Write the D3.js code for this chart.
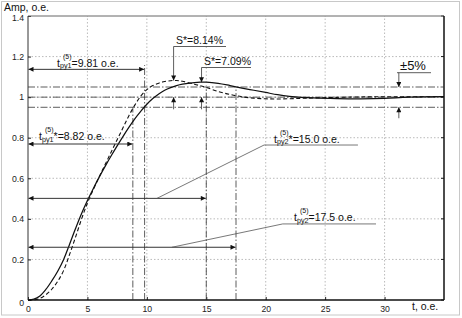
<!DOCTYPE html>
<html><head><meta charset="utf-8">
<script src="https://cdn.jsdelivr.net/npm/d3@7"></script>
<style>
html,body{margin:0;padding:0;background:#fff;}
svg{display:block;font-family:"Liberation Sans",Arial,sans-serif;}
</style></head>
<body>
<svg id="chart" width="462" height="318"></svg>
<script>
// ---- data ----
const tValues = [0,0.5,1,1.5,2,2.5,3,3.5,4,4.5,5,5.5,6,6.5,7,7.5,8,8.5,9,9.5,10,10.5,11,11.5,12,12.5,13,14,14.5,15,16,17,18,19,20,21,22,23,24,26,28,30,32,35];
const solidValues = [0,0.004,0.02,0.052,0.094,0.142,0.2,0.275,0.352,0.425,0.49,0.55,0.607,0.66,0.711,0.76,0.807,0.852,0.894,0.931,0.965,0.993,1.016,1.034,1.047,1.057,1.064,1.072,1.074,1.074,1.068,1.057,1.045,1.034,1.023,1.012,1.004,0.999,0.996,0.993,0.992,0.994,1.0,1.002];
const dashedValues = [0,0.001,0.008,0.026,0.053,0.092,0.146,0.225,0.31,0.398,0.478,0.545,0.608,0.669,0.73,0.79,0.85,0.91,0.962,1.006,1.037,1.057,1.069,1.077,1.081,1.082,1.078,1.064,1.056,1.048,1.028,1.013,1.002,0.995,0.992,0.991,0.992,0.994,0.996,0.999,1.001,1.002,1.002,1.002];
const xTicks = [0,5,10,15,20,25,30];
const yTicks = [0,0.2,0.4,0.6,0.8,1,1.2,1.4];
const bandLevels = [0.95,1.0,1.05];
const timeMarks = [8.82, 9.81, 15.0, 17.5];
const overshootLabels = ["S*=8.14%", "S*=7.09%"];

const svg = d3.select("#chart");
const x = d3.scaleLinear().domain([0,35]).range([28,444]);
const y = d3.scaleLinear().domain([0,1.4]).range([300,16]);

// outer frame
svg.append("rect").attr("x",1.5).attr("y",1.5).attr("width",458).attr("height",313.5)
  .attr("fill","none").attr("stroke","#c8c8c8").attr("stroke-width",1);

// arrow marker
const defs = svg.append("defs");
defs.append("marker").attr("id","ah").attr("viewBox","0 0 10 10").attr("refX",10).attr("refY",5)
  .attr("markerUnits","userSpaceOnUse").attr("markerWidth",6.5).attr("markerHeight",5)
  .attr("orient","auto-start-reverse")
  .append("path").attr("d","M0,0 L10,5 L0,10 Z").attr("fill","#111");

// grid
const g = svg.append("g");
g.selectAll(".gx").data(xTicks.filter(d=>d>0)).join("line")
  .attr("x1",d=>x(d)).attr("x2",d=>x(d)).attr("y1",y(0)).attr("y2",y(1.4))
  .attr("stroke","#aaa").attr("stroke-width",0.8).attr("stroke-dasharray","1.5,2");
g.selectAll(".gy").data(yTicks.filter(d=>d>0 && d<1.4)).join("line")
  .attr("x1",x(0)).attr("x2",x(35)).attr("y1",d=>y(d)).attr("y2",d=>y(d))
  .attr("stroke","#aaa").attr("stroke-width",0.8).attr("stroke-dasharray","1.5,2");

// axes
const xAxis = d3.axisBottom(x).tickValues(xTicks).tickSize(-3).tickPadding(4).tickFormat(d3.format("d"));
const yAxis = d3.axisLeft(y).tickValues(yTicks).tickSize(-3).tickPadding(4).tickFormat(d=>d3.format("")(d));
const gx = svg.append("g").attr("transform",`translate(0,${y(0)})`).call(xAxis);
const gy = svg.append("g").attr("transform",`translate(${x(0)},0)`).call(yAxis);
[gx,gy].forEach(a=>{
  a.select(".domain").remove();
  a.selectAll(".tick line").attr("stroke","#222");
  a.selectAll(".tick text").attr("font-size","8.7px").attr("fill","#222").attr("font-family","Liberation Sans, Arial, sans-serif");
});
gy.selectAll(".tick").filter(d=>d===0).select("text").attr("dy","0.6em");
gy.selectAll(".tick").filter(d=>d===1.4).select("text").attr("dy","0.5em");
gx.selectAll(".tick text").attr("dy","0.9em");
// right ticks
svg.append("g").selectAll("line").data(yTicks).join("line")
  .attr("x1",x(35)).attr("x2",x(35)-3).attr("y1",d=>y(d)).attr("y2",d=>y(d)).attr("stroke","#222");

// plot frame
svg.append("line").attr("x1",x(0)).attr("x2",x(35)).attr("y1",y(1.4)).attr("y2",y(1.4)).attr("stroke","#666").attr("stroke-width",1);
svg.append("line").attr("x1",x(0)).attr("x2",x(0)).attr("y1",y(0)).attr("y2",y(1.4)).attr("stroke","#333").attr("stroke-width",1);
svg.append("line").attr("x1",x(0)).attr("x2",x(35)).attr("y1",y(0)).attr("y2",y(0)).attr("stroke","#111").attr("stroke-width",1.5);
svg.append("line").attr("x1",x(35)).attr("x2",x(35)).attr("y1",y(0)).attr("y2",y(1.4)).attr("stroke","#111").attr("stroke-width",1.5);

// axis titles
svg.append("text").attr("x",4).attr("y",11).attr("font-size","10.5px").attr("fill","#111").text("Amp, o.e.");
svg.append("text").attr("x",412).attr("y",310).attr("font-size","10.5px").attr("fill","#111").text("t, o.e.");

// band lines (dash-dot)
const dd = "7,2,1.5,2";
svg.append("g").selectAll("line").data(bandLevels).join("line")
  .attr("x1",x(0)).attr("x2",x(35)).attr("y1",d=>y(d)).attr("y2",d=>y(d))
  .attr("stroke","#333").attr("stroke-width",0.8).attr("stroke-dasharray",dd);

// vertical time marks
const vTop = [0.95, 1.158, 1.05, 1.05];
svg.append("g").selectAll("line").data(timeMarks).join("line")
  .attr("x1",d=>x(d)).attr("x2",d=>x(d)).attr("y1",y(0)).attr("y2",(d,i)=>y(vTop[i]))
  .attr("stroke","#333").attr("stroke-width",0.8).attr("stroke-dasharray",dd);

// curves
const line = d3.line().x(d=>x(d[0])).y(d=>y(d[1])).curve(d3.curveCatmullRom.alpha(0.5));
svg.append("path").datum(tValues.map((t,i)=>[t,solidValues[i]])).attr("d",line)
  .attr("fill","none").attr("stroke","#111").attr("stroke-width",1.25);
svg.append("path").datum(tValues.map((t,i)=>[t,dashedValues[i]])).attr("d",line)
  .attr("fill","none").attr("stroke","#111").attr("stroke-width",1.1).attr("stroke-dasharray","4,2.5");

// horizontal time arrows
const arrowLevels = [1.137, 0.769, 0.501, 0.26];
const arrowEnds = [9.81, 8.82, 15.0, 17.5];
svg.append("g").selectAll("line").data(arrowLevels).join("line")
  .attr("x1",x(0)+0.5).attr("x2",(d,i)=>x(arrowEnds[i])-0.5).attr("y1",d=>y(d)).attr("y2",d=>y(d))
  .attr("stroke","#333").attr("stroke-width",1)
  .attr("marker-start","url(#ah)").attr("marker-end","url(#ah)");

// leader lines
function leader(pts){
  svg.append("path").attr("d",d3.line()(pts.map(p=>[x(p[0]),y(p[1])])))
    .attr("fill","none").attr("stroke","#555").attr("stroke-width",0.8);
}
leader([[10.85,0.501],[19.86,0.764],[27.76,0.764]]);
leader([[12.11,0.26],[21.43,0.375],[29.28,0.375]]);

// t labels with sub/superscripts
function tLabel(px, py, sub, star, rest){
  const fs = 10.5;
  svg.append("text").attr("x",px).attr("y",py).attr("font-size",fs+"px").attr("fill","#111").text("t");
  svg.append("text").attr("x",px+6).attr("y",py-8).attr("font-size","7px").attr("fill","#111").text("(5)");
  const s = svg.append("text").attr("x",px+3).attr("y",py+1.5).attr("font-size","7.2px").attr("fill","#111").text(sub);
  const w = s.node().getComputedTextLength();
  const cx = px+3+w;
  svg.append("text").attr("x",cx).attr("y",py).attr("font-size",fs+"px").attr("fill","#111").text((star?"*":"")+rest);
}
tLabel(57, 66.5, "py1", false, "=9.81 o.e.");
tLabel(39, 140, "py1", true, "=8.82 o.e.");
tLabel(274, 142.5, "py2", true, "=15.0 o.e.");
tLabel(294, 221, "py2", false, "=17.5 o.e.");

// overshoot markers
function overshoot(t, peak, textX, textY, lineY, lineX2, label){
  svg.append("text").attr("x",textX).attr("y",textY).attr("font-size","10.5px").attr("fill","#111").text(label);
  svg.append("line").attr("x1",x(t)).attr("x2",lineX2).attr("y1",lineY).attr("y2",lineY).attr("stroke","#333").attr("stroke-width",0.8);
  svg.append("line").attr("x1",x(t)).attr("x2",x(t)).attr("y1",lineY).attr("y2",y(peak))
    .attr("stroke","#333").attr("stroke-width",0.8).attr("marker-end","url(#ah)");
  svg.append("line").attr("x1",x(t)).attr("x2",x(t)).attr("y1",y(0.94)).attr("y2",y(1.0))
    .attr("stroke","#333").attr("stroke-width",0.8).attr("marker-end","url(#ah)");
}
overshoot(12.25, 1.082, 176, 44, 46.5, 226, overshootLabels[0]);
overshoot(14.6, 1.074, 204, 65, 67.5, 251, overshootLabels[1]);

// ±5% marker
svg.append("text").attr("x",400).attr("y",70).attr("font-size","13px").attr("fill","#111").text("±5%");
svg.append("line").attr("x1",397).attr("x2",431).attr("y1",72.7).attr("y2",72.7).attr("stroke","#333").attr("stroke-width",0.8);
svg.append("line").attr("x1",x(31.2)).attr("x2",x(31.2)).attr("y1",72.7).attr("y2",y(1.05))
  .attr("stroke","#333").attr("stroke-width",0.8).attr("marker-end","url(#ah)");
svg.append("line").attr("x1",x(31.2)).attr("x2",x(31.2)).attr("y1",y(0.896)).attr("y2",y(0.95))
  .attr("stroke","#333").attr("stroke-width",0.8).attr("marker-end","url(#ah)");
</script>
</body></html>
